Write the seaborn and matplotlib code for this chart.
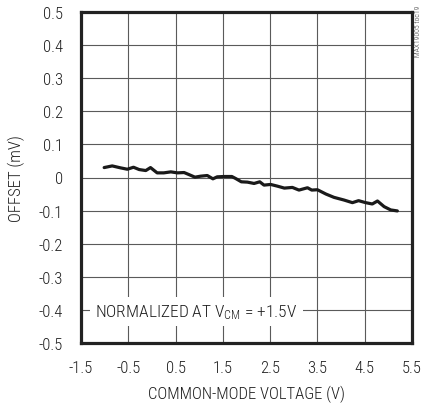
import matplotlib
matplotlib.use("Agg")
import matplotlib.pyplot as plt
from matplotlib import font_manager as fm
import seaborn as sns
import pandas as pd

# Data
vcm = [-1.01, -0.84, -0.66, -0.52, -0.39, -0.27, -0.13, -0.03, 0.11, 0.25, 0.40, 0.54,
       0.68, 0.78, 0.91, 1.03, 1.17, 1.29, 1.38, 1.52, 1.69, 1.77, 1.89, 2.02, 2.16,
       2.28, 2.37, 2.51, 2.65, 2.80, 2.97, 3.11, 3.29, 3.38, 3.50, 3.68, 3.85, 4.06,
       4.24, 4.37, 4.52, 4.66, 4.77, 4.91, 5.05, 5.19]
offset = [0.030, 0.035, 0.029, 0.025, 0.031, 0.024, 0.021, 0.030, 0.014, 0.014, 0.017,
          0.014, 0.015, 0.009, 0.001, 0.004, 0.006, -0.004, 0.002, 0.003, 0.003, -0.003,
          -0.013, -0.014, -0.018, -0.013, -0.023, -0.021, -0.026, -0.032, -0.030, -0.038,
          -0.031, -0.038, -0.037, -0.050, -0.060, -0.068, -0.076, -0.070, -0.076, -0.080,
          -0.071, -0.088, -0.098, -0.101]
x_ticks = [-1.5, -0.5, 0.5, 1.5, 2.5, 3.5, 4.5, 5.5]
x_tick_labels = ["-1.5", "-0.5", "0.5", "1.5", "2.5", "3.5", "4.5", "5.5"]
y_ticks = [0.5, 0.4, 0.3, 0.2, 0.1, 0.0, -0.1, -0.2, -0.3, -0.4, -0.5]
y_tick_labels = ["0.5", "0.4", "0.3", "0.2", "0.1", "0", "-0.1", "-0.2", "-0.3", "-0.4", "-0.5"]

sns.set_style("white")
avail = set(f.name for f in fm.fontManager.ttflist)
cands = ["Roboto Condensed", "Archivo Narrow", "Barlow Condensed", "Liberation Sans"]
FONT = [c for c in cands if c in avail] + ["DejaVu Sans"]
MAIN = FONT[0]
plt.rcParams["font.family"] = FONT
plt.rcParams["font.weight"] = "light"
plt.rcParams["axes.labelweight"] = "light"
plt.rcParams["mathtext.fontset"] = "custom"
plt.rcParams["mathtext.rm"] = MAIN + ":light"
plt.rcParams["mathtext.it"] = MAIN + ":light"
plt.rcParams["mathtext.bf"] = MAIN

TXT = "#1e1e1e"
fig = plt.figure(figsize=(4.23, 4.06), dpi=100)
ax = fig.add_axes([81 / 423, 1 - 344 / 406, 331 / 423, 331 / 406])

df = pd.DataFrame({"vcm": vcm, "offset": offset})
sns.lineplot(data=df, x="vcm", y="offset", ax=ax, color="#1a1a1a", linewidth=2.3,
             zorder=3)

ax.set_xlim(-1.5, 5.5)
ax.set_ylim(-0.5, 0.5)
ax.set_xticks(x_ticks)
ax.set_xticklabels(x_tick_labels)
ax.set_yticks(y_ticks)
ax.set_yticklabels(y_tick_labels)
ax.tick_params(axis="both", length=0, labelsize=12, colors=TXT)
ax.tick_params(axis="y", pad=13)
ax.tick_params(axis="x", pad=12)
ax.grid(True, color="#5a5a5a", linewidth=0.8)
ax.set_axisbelow(True)
for s in ax.spines.values():
    s.set_linewidth(2.3)
    s.set_color("#222222")

ax.set_xlabel("COMMON-MODE VOLTAGE (V)", fontsize=12, color=TXT, labelpad=7,
              fontweight="light")
ax.set_ylabel("OFFSET (mV)", fontsize=12, color=TXT, labelpad=10, fontweight="light")

ax.text(-1.2, -0.405, r"NORMALIZED AT V$_{\mathrm{CM}}$ = +1.5V", fontsize=12.5,
        color=TXT, va="center", ha="left", zorder=4,
        bbox=dict(facecolor="white", edgecolor="none", pad=4))

fig.text(0.988, 0.985, "MAX19005 toc19", rotation=90, fontsize=5.5, color="#333333",
         ha="center", va="top")

fig.savefig("out.png", dpi=100)
